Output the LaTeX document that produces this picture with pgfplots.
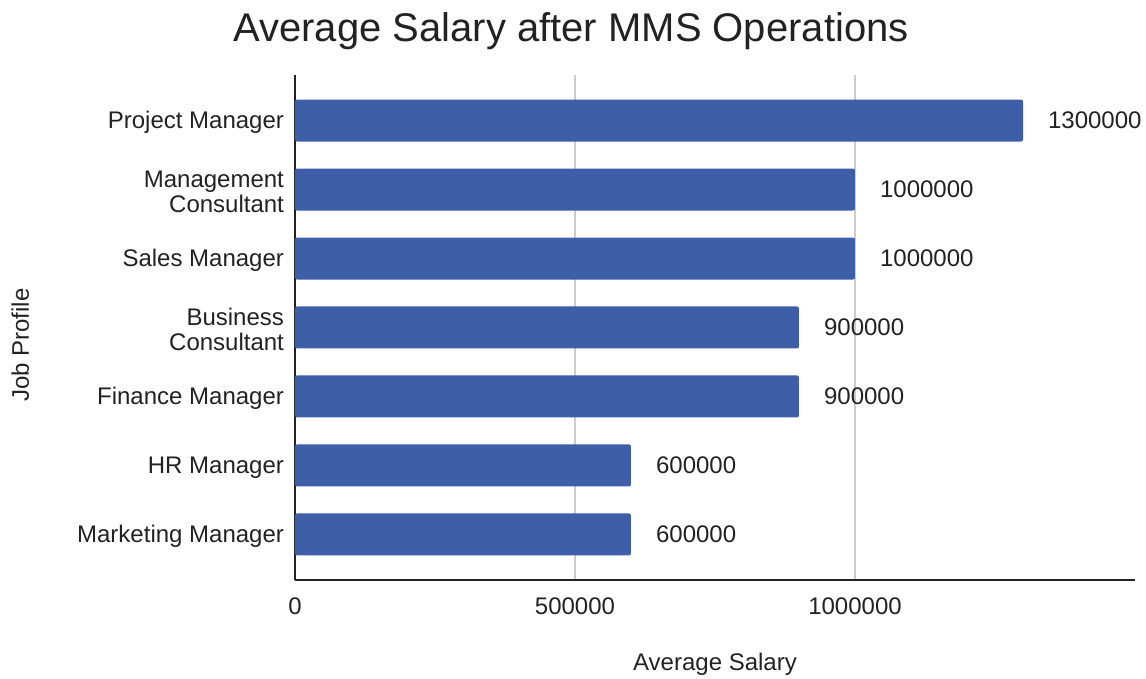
\documentclass[border=0pt]{standalone}
\usepackage{pgfplots}
\pgfplotsset{compat=1.18}
\usepackage{fontspec}
\setmainfont{Liberation Sans}
\definecolor{barblue}{RGB}{62,94,167}
\definecolor{txt}{RGB}{34,34,34}
\definecolor{gridc}{RGB}{204,204,204}
\begin{document}
\begin{tikzpicture}
\path[use as bounding box] (-147.5pt,-49.5pt) rectangle (425.5pt,290pt);
\begin{axis}[
  at={(0,0)}, anchor=south west,
  scale only axis, width=420pt, height=252.5pt,
  xbar, bar width=21pt,
  xmin=0, xmax=1500000,
  ymin=-0.66, ymax=6.66,
  ytick={0,...,6},
  yticklabels={{Marketing Manager},{HR Manager},{Finance Manager},{Business\\Consultant},{Sales Manager},{Management\\Consultant},{Project Manager}},
  yticklabel style={align=right, font=\fontsize{12}{12.5}\selectfont, text=txt, xshift=-2pt, yshift=-1pt},
  xtick={0,500000,1000000},
  scaled x ticks=false,
  xticklabel style={/pgf/number format/.cd, fixed, 1000 sep={}, assume math mode=true, /tikz/.cd, font=\fontsize{12}{14}\selectfont, text=txt, yshift=-5.5pt},
  major tick length=0pt,
  xmajorgrids, major grid style={gridc, line width=0.6pt},
  axis x line*=bottom, axis y line*=left,
  axis line style={-, line width=0.8pt, color=txt},
  title={Average Salary after MMS Operations},
  title style={at={(axis description cs:0.3286,1.064)}, anchor=center, font=\fontsize{20}{24}\selectfont, text=txt},
  xlabel={Average Salary},
  xlabel style={at={(axis description cs:0.5,-0.166)}, anchor=center, font=\fontsize{12}{14}\selectfont, text=txt},
  ylabel={Job Profile},
  ylabel style={at={(axis description cs:-0.327,0.465)}, anchor=center, rotate=0, font=\fontsize{12}{14}\selectfont, text=txt},
  nodes near coords={\pgfmathprintnumber[fixed,precision=0,1000 sep={},assume math mode=true]{\pgfplotspointmeta}},
  nodes near coords style={anchor=west, xshift=9pt, font=\fontsize{12}{14}\selectfont, text=txt},
]
\addplot[fill=barblue, draw=none, rounded corners=1pt] coordinates {
  (600000,0) (600000,1) (900000,2) (900000,3) (1000000,4) (1000000,5) (1300000,6)
};
\end{axis}
\end{tikzpicture}
\end{document}
